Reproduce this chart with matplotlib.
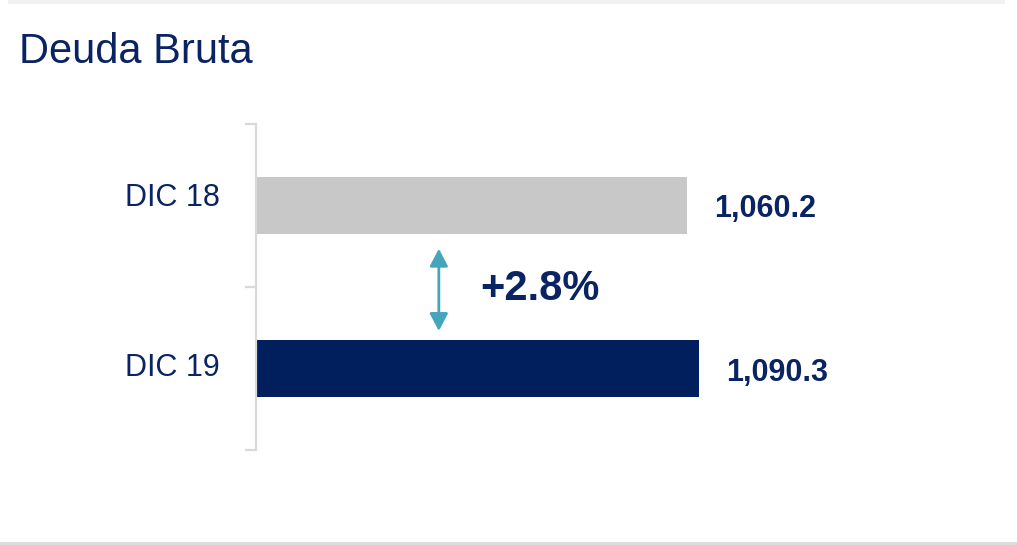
import matplotlib.pyplot as plt
from matplotlib.patches import Rectangle

# data
categories = ["DIC 18", "DIC 19"]
values = [1060.2, 1090.3]
value_labels = ["1,060.2", "1,090.3"]
change_label = "+2.8%"
title = "Deuda Bruta"

NAVY = "#0a2463"
BAR_COLORS = ["#c8c8c8", "#001f5c"]
ARROW_COLOR = "#45a5bd"
AXIS_GRAY = "#d9d9d9"

plt.rcParams["font.family"] = ["Liberation Sans", "DejaVu Sans"]

W, H = 1017, 545
fig = plt.figure(figsize=(W / 100, H / 100), dpi=100)
fig.patch.set_facecolor("white")

# page decorations: light band on top, thin rule at bottom
fig.patches.append(Rectangle((8 / W, 1 - 4 / H), 997 / W, 4 / H, transform=fig.transFigure,
                             facecolor="#eff1f2", edgecolor="none"))
fig.patches.append(Rectangle((0, 0), 1, 3 / H, transform=fig.transFigure,
                             facecolor="#dcdcdc", edgecolor="none"))

fig.text(19 / W, 1 - 63 / H, title, fontsize=30, color=NAVY, ha="left", va="baseline")

# axes: left spine at x=256px, from y=124px to y=450px
left, right = 256 / W, 1000 / W
bottom, top = 1 - 450 / H, 1 - 124 / H
ax = fig.add_axes([left, bottom, right - left, top - bottom])

px_per_unit = 443 / 1090.3
ax.set_xlim(0, (1000 - 256) / px_per_unit)
ax.set_ylim(len(categories) - 0.5, -0.5)

y_pos = list(range(len(categories)))
ax.barh(y_pos, values, height=0.35, color=BAR_COLORS, edgecolor="none")

for s in ["top", "right", "bottom"]:
    ax.spines[s].set_visible(False)
ax.spines["left"].set_color(AXIS_GRAY)
ax.spines["left"].set_linewidth(1.6)
ax.set_xticks([])
ax.set_yticks([-0.5, 0.5, 1.5])
ax.set_yticklabels([])
ax.tick_params(axis="y", length=8, width=1.6, color=AXIS_GRAY)
ax.set_facecolor("none")

# category labels (baseline offsets from bar centre, in pixels)
label_shift = [-1, -7]
for y, cat, dy in zip(y_pos, categories, label_shift):
    ax.annotate(cat, xy=(0, y), xytext=(-36, dy), textcoords="offset pixels",
                ha="right", va="baseline", fontsize=22, color=NAVY)

# value labels
for y, v, lab in zip(y_pos, values, value_labels):
    ax.annotate(lab, xy=(v, y), xytext=(27, -12), textcoords="offset pixels",
                ha="left", va="baseline", fontsize=22, fontweight="bold", color=NAVY)

# change arrow between bars
arrow_x = 450
ax.annotate("", xy=(arrow_x, 0.265), xytext=(arrow_x, 0.77),
            arrowprops=dict(arrowstyle="<|-|>,head_length=1.05,head_width=0.55",
                            color=ARROW_COLOR, lw=2, shrinkA=0, shrinkB=0))
ax.annotate(change_label, xy=(arrow_x, 0.5), xytext=(41, -13), textcoords="offset pixels",
            ha="left", va="baseline", fontsize=30, fontweight="bold", color=NAVY)

fig.savefig("out.png", dpi=100, facecolor="white")
